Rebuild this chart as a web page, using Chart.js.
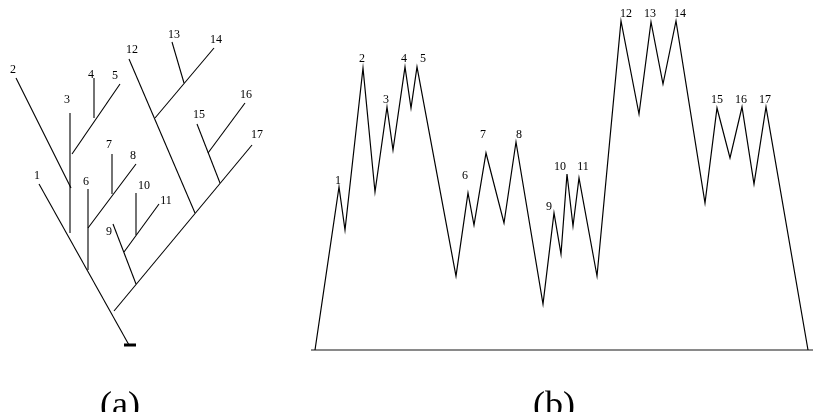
<!DOCTYPE html>
<html>
<head>
<meta charset="utf-8">
<script src="https://cdn.jsdelivr.net/npm/chart.js@4.4.1/dist/chart.umd.min.js"></script>
<style>
    html, body { margin: 0; padding: 0; background: #fff; }
    body { width: 813px; height: 412px; position: relative; overflow: hidden; }
    #treeWrap { position: absolute; left: 0; top: 0; width: 300px; height: 412px; }
    #profileWrap { position: absolute; left: 300px; top: 0; width: 513px; height: 412px; }
</style>
</head>
<body>
<div id="treeWrap"><canvas id="treeChart"></canvas></div>
<div id="profileWrap"><canvas id="profileChart"></canvas></div>
<script>
// Leaf names (same for both panels)
const leafNames = ['1', '2', '3', '4', '5', '6', '7', '8', '9', '10', '11', '12', '13', '14', '15', '16', '17'];

// (a) tree: each branch runs from a base point to its leaf tip
const treeTipX  = [-90, -113, -59, -35, -9, -41, -17, 7, -16, 7, 30, 0, 43, 85, 68, 116, 123];
const treeTipY  = [161, 267, 232, 267, 261, 156, 191, 181, 121, 152, 141, 286, 303, 297, 221, 242, 200];
const treeBaseX = [0, -58, -59, -35, -57, -41, -17, -41, 7, 7, -5, 66, 55, 26, 91, 79, -15];
const treeBaseY = [0, 157, 112, 227, 191, 75, 151, 117, 61, 110, 93, 132, 262, 227, 162, 192, 34];
const rootBarX  = [-5, 7];
const rootBarY  = [0, 0];

// (b) profile: alternating peaks (odd index) and valleys
const profileX = [0, 24, 30, 48, 60, 72, 78, 90, 96, 102, 141, 153, 159, 171, 189, 201, 228, 239,
                  246, 252, 258, 264, 282, 306, 324, 336, 348, 361, 390, 402, 415, 427, 439, 451, 493];
const profileY = [0, 163, 120, 282, 158, 243, 200, 283, 242, 283, 74, 157, 125, 197, 127, 208, 46, 137,
                  96, 176, 124, 172, 74, 329, 236, 328, 266, 329, 147, 242, 192, 243, 166, 243, 0];
const baseLineX = [-4, 498];
const baseLineY = [0, 0];

// Label nudges in pixels (text centre relative to the tip / peak)
const treeLabelNudge = [[-2, -9], [-3, -9], [-3, -14], [-3, -4], [-5, -9], [-2, -8], [-3, -10], [-3, -9], [-4, 7],
                        [8, -8], [7, -4], [3, -10], [2, -8], [2, -9], [2, -10], [1, -9], [5, -11]];
const peakLabelNudge = [[-1, -7], [-1, -10], [-1, -8], [-1, -9], [6, -9], [-3, -18], [-3, -19], [3, -8], [-5, -7],
                        [-7, -8], [4, -12], [5, -8], [-1, -9], [4, -8], [0, -9], [-1, -8], [-1, -8]];

const labelFont = '12px "Liberation Serif", "DejaVu Serif", serif';
const captionFont = '36px "Liberation Serif", "DejaVu Serif", serif';

function pairs(xs, ys) {
    return xs.map((x, i) => ({ x: x, y: ys[i] }));
}

function lineSet(points, width, color) {
    return {
        data: points,
        showLine: true,
        borderColor: color,
        borderWidth: width,
        pointRadius: 0,
        pointHoverRadius: 0,
        fill: false,
        tension: 0
    };
}

function baseOptions(xMin, xMax, yMin, yMax) {
    return {
        responsive: true,
        maintainAspectRatio: false,
        animation: false,
        events: [],
        layout: { padding: 0 },
        plugins: { legend: { display: false }, tooltip: { enabled: false } },
        scales: {
            x: { type: 'linear', display: false, min: xMin, max: xMax },
            y: { type: 'linear', display: false, min: yMin, max: yMax }
        }
    };
}

// Draws leaf numbers next to given points, plus the panel caption
function labelPlugin(id, getX, getY, nudges, caption, captionX) {
    return {
        id: id,
        afterDatasetsDraw(chart) {
            const ctx = chart.ctx;
            const xs = chart.scales.x;
            const ys = chart.scales.y;
            ctx.save();
            ctx.fillStyle = '#000';
            ctx.font = labelFont;
            ctx.textAlign = 'center';
            ctx.textBaseline = 'alphabetic';
            leafNames.forEach((name, i) => {
                const px = xs.getPixelForValue(getX(i)) + nudges[i][0];
                const py = ys.getPixelForValue(getY(i)) + nudges[i][1] + 4;
                ctx.fillText(name, px, py);
            });
            ctx.font = captionFont;
            ctx.fillText(caption, captionX, 416);
            ctx.restore();
        }
    };
}

// (a) Tree chart
const treeSets = treeTipX.map((tx, i) =>
    lineSet([{ x: treeBaseX[i], y: treeBaseY[i] }, { x: tx, y: treeTipY[i] }], 1.1, '#000'));
treeSets.push(lineSet(pairs(rootBarX, rootBarY), 3, '#000'));

new Chart(document.getElementById('treeChart'), {
    type: 'scatter',
    data: { datasets: treeSets },
    options: baseOptions(-129, 171, -67, 345),
    plugins: [labelPlugin('treeLabels', i => treeTipX[i], i => treeTipY[i], treeLabelNudge, '(a)', 120)]
});

// (b) Profile chart
const peakIndex = leafNames.map((n, i) => 2 * i + 1);

new Chart(document.getElementById('profileChart'), {
    type: 'scatter',
    data: {
        datasets: [
            lineSet(pairs(profileX, profileY), 1.2, '#000'),
            lineSet(pairs(baseLineX, baseLineY), 2, '#8a8a8a')
        ]
    },
    options: baseOptions(-15, 498, -62, 350),
    plugins: [labelPlugin('peakLabels', i => profileX[peakIndex[i]], i => profileY[peakIndex[i]],
        peakLabelNudge, '(b)', 254)]
});
</script>
</body>
</html>
